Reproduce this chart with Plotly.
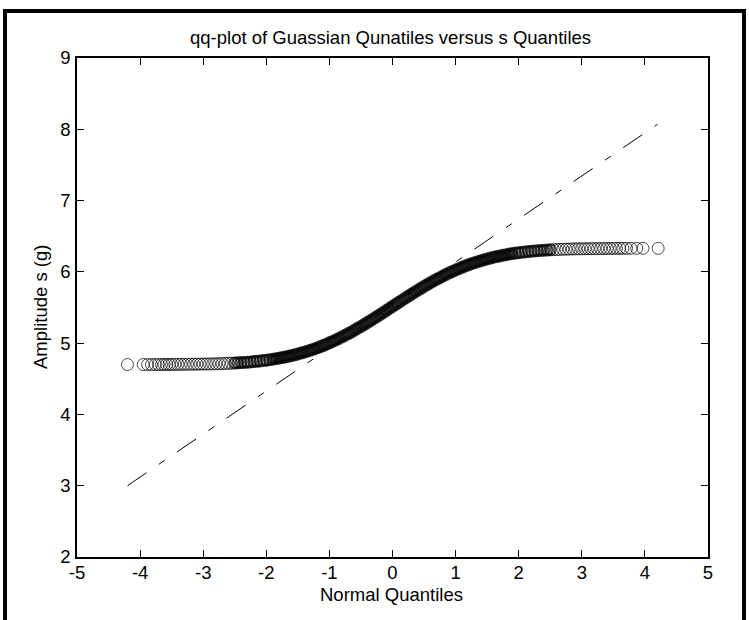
import plotly.graph_objects as go

# ---- data ----
left_tail_x = [-4.20, -3.95, -3.88, -3.82, -3.76, -3.71, -3.66, -3.62, -3.58, -3.54,
               -3.50, -3.45, -3.40, -3.35, -3.30, -3.25, -3.20, -3.15, -3.10, -3.05,
               -3.00, -2.95, -2.90, -2.85, -2.80, -2.75, -2.70, -2.65, -2.60, -2.55]
left_tail_y = [4.700, 4.700, 4.700, 4.700, 4.700, 4.700, 4.700, 4.701, 4.701, 4.701,
               4.701, 4.702, 4.702, 4.703, 4.703, 4.704, 4.704, 4.705, 4.705, 4.706,
               4.707, 4.707, 4.708, 4.709, 4.710, 4.711, 4.713, 4.715, 4.717, 4.719]

body_x = [-2.50, -2.45, -2.40, -2.35, -2.30, -2.25, -2.20, -2.15, -2.10, -2.05,
          -2.00, -1.95, -1.90, -1.85, -1.80, -1.75, -1.70, -1.65, -1.60, -1.55,
          -1.50, -1.45, -1.40, -1.35, -1.30, -1.25, -1.20, -1.15, -1.10, -1.05,
          -1.00, -0.95, -0.90, -0.85, -0.80, -0.75, -0.70, -0.65, -0.60, -0.55,
          -0.50, -0.45, -0.40, -0.35, -0.30, -0.25, -0.20, -0.15, -0.10, -0.05,
          0.00, 0.05, 0.10, 0.15, 0.20, 0.25, 0.30, 0.35, 0.40, 0.45,
          0.50, 0.55, 0.60, 0.65, 0.70, 0.75, 0.80, 0.85, 0.90, 0.95,
          1.00, 1.05, 1.10, 1.15, 1.20, 1.25, 1.30, 1.35, 1.40, 1.45,
          1.50, 1.55, 1.60, 1.65, 1.70, 1.75, 1.80, 1.85, 1.90, 1.95,
          2.00, 2.05, 2.10, 2.15, 2.20, 2.25, 2.30, 2.35, 2.40, 2.45, 2.50]
body_y = [4.721, 4.724, 4.727, 4.730, 4.733, 4.737, 4.741, 4.745, 4.750, 4.755,
          4.761, 4.767, 4.774, 4.781, 4.789, 4.797, 4.806, 4.815, 4.825, 4.836,
          4.848, 4.860, 4.873, 4.887, 4.901, 4.916, 4.932, 4.949, 4.966, 4.985,
          5.004, 5.024, 5.044, 5.066, 5.088, 5.111, 5.134, 5.158, 5.183, 5.209,
          5.235, 5.261, 5.288, 5.315, 5.343, 5.371, 5.400, 5.428, 5.457, 5.486,
          5.515, 5.544, 5.573, 5.602, 5.630, 5.659, 5.687, 5.715, 5.742, 5.769,
          5.795, 5.821, 5.847, 5.872, 5.896, 5.919, 5.942, 5.964, 5.986, 6.006,
          6.026, 6.045, 6.064, 6.081, 6.098, 6.114, 6.129, 6.143, 6.157, 6.170,
          6.182, 6.194, 6.205, 6.215, 6.224, 6.233, 6.241, 6.249, 6.256, 6.263,
          6.269, 6.275, 6.280, 6.285, 6.289, 6.293, 6.297, 6.300, 6.303, 6.306, 6.309]

right_tail_x = [2.55, 2.60, 2.65, 2.70, 2.75, 2.80, 2.85, 2.90, 2.95, 3.00,
                3.05, 3.10, 3.15, 3.20, 3.25, 3.30, 3.35, 3.40, 3.45, 3.50,
                3.55, 3.60, 3.65, 3.71, 3.78, 3.87, 3.97, 4.21]
right_tail_y = [6.311, 6.313, 6.315, 6.317, 6.318, 6.320, 6.321, 6.322, 6.323, 6.323,
                6.324, 6.325, 6.325, 6.326, 6.326, 6.327, 6.327, 6.328, 6.328, 6.329,
                6.329, 6.330, 6.330, 6.330, 6.330, 6.330, 6.330, 6.330]

ref_line_x = [-4.20, 4.20]
ref_line_y = [3.00, 8.07]

x_ticks = [-5, -4, -3, -2, -1, 0, 1, 2, 3, 4, 5]
y_ticks = [2, 3, 4, 5, 6, 7, 8, 9]

title_text = "qq-plot of Guassian Qunatiles versus s Quantiles"
x_label = "Normal Quantiles"
y_label = "Amplitude s (g)"

# ---- figure ----
FONT = dict(family="Liberation Sans, Arial, sans-serif", size=18.5, color="black")

xs = left_tail_x + body_x + right_tail_x
ys = left_tail_y + body_y + right_tail_y

# ring stroke thicker where points are packed densely (visual density of original)
line_w = []
for x in xs:
    ax = abs(x)
    if ax <= 1.9:
        line_w.append(3.5)
    elif ax <= 2.5:
        line_w.append(2.2)
    else:
        line_w.append(1.0)
sizes = [13 - w for w in line_w]

fig = go.Figure()
fig.add_trace(go.Scatter(
    x=ref_line_x, y=ref_line_y, mode="lines",
    line=dict(color="black", width=1, dash="23px,15px,7px,15px"),
    hoverinfo="skip", showlegend=False))
fig.add_trace(go.Scatter(
    x=xs, y=ys, mode="markers",
    marker=dict(symbol="circle-open", size=sizes, color="black",
                line=dict(color="black", width=line_w)),
    showlegend=False))

W, H = 749, 620
L, R, T, B = 77, 41, 58, 63
pw, ph = W - L - R, H - T - B

def px_to_paper_x(px):
    return (px - L) / pw

def px_to_paper_y(py):
    return (H - B - py) / ph

axis_common = dict(showline=True, linecolor="black", linewidth=1.5, mirror="ticks",
                   ticks="inside", ticklen=7, tickwidth=1, tickcolor="black",
                   showgrid=False, zeroline=False, tickfont=FONT)

fig.update_layout(
    width=W, height=H,
    margin=dict(l=L, r=R, t=T, b=B, pad=0),
    paper_bgcolor="white", plot_bgcolor="white",
    xaxis=dict(range=[-5, 5], tickvals=x_ticks, ticktext=[str(v) for v in x_ticks],
               ticklabelstandoff=-2, **axis_common),
    yaxis=dict(range=[2, 9], tickvals=y_ticks, ticktext=[str(v) for v in y_ticks],
               ticklabelstandoff=1, **axis_common),
    annotations=[
        dict(text=title_text, xref="paper", yref="paper", x=px_to_paper_x(390), y=px_to_paper_y(38),
             xanchor="center", yanchor="middle", showarrow=False, font=FONT),
        dict(text=x_label, xref="paper", yref="paper", x=px_to_paper_x(391), y=px_to_paper_y(594),
             xanchor="center", yanchor="middle", showarrow=False, font=FONT),
        dict(text=y_label, xref="paper", yref="paper", x=px_to_paper_x(40), y=px_to_paper_y(307),
             xanchor="center", yanchor="middle", textangle=-90, showarrow=False, font=FONT),
    ],
    shapes=[
        dict(type="rect", xref="paper", yref="paper",
             x0=px_to_paper_x(5), x1=px_to_paper_x(744),
             y0=px_to_paper_y(680), y1=px_to_paper_y(11),
             line=dict(color="black", width=4), fillcolor="rgba(0,0,0,0)", layer="above"),
    ],
)

fig.write_html("out.html", config={"displayModeBar": False},
               post_script="document.body.style.margin='0';")
